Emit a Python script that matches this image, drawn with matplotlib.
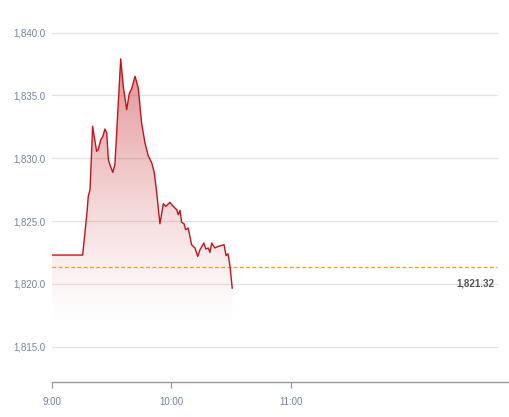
import numpy as np
import matplotlib
matplotlib.use("Agg")
import matplotlib.pyplot as plt
from matplotlib.patches import Polygon

# minutes after 9:00 and index value
minutes = [0, 15.4, 17.7, 18.2, 19.1, 20.4, 22.4, 23.2, 24.5, 25.5, 26.6, 27.5,
           28.3, 29.1, 30.5, 31.6, 34.5, 35.8, 37.5, 38.8, 40.0, 41.7, 43.3,
           45.0, 46.7, 48.3, 50.1, 51.4, 52.6, 54.2, 55.9, 57.1, 59.2, 60.9,
           62.6, 63.4, 64.3, 65.1, 66.3, 67.1, 68.4, 70.1, 71.8, 73.2, 74.3,
           76.3, 77.2, 78.5, 79.3, 80.2, 81.8, 83.5, 86.4, 87.4, 88.4, 89.4, 90.5]
values = [1822.3, 1822.3, 1825.9, 1826.97, 1827.5, 1832.54, 1830.55, 1830.68,
          1831.48, 1831.72, 1832.33, 1832.01, 1829.89, 1829.49, 1828.88, 1829.49,
          1837.91, 1835.72, 1833.87, 1835.14, 1835.52, 1836.52, 1835.6, 1832.81,
          1831.22, 1830.21, 1829.63, 1828.83, 1827.24, 1824.79, 1826.39, 1826.17,
          1826.49, 1826.17, 1825.91, 1825.51, 1825.85, 1824.9, 1824.79, 1824.32,
          1824.45, 1823.12, 1822.86, 1822.19, 1822.72, 1823.26, 1822.78, 1822.86,
          1822.51, 1823.26, 1822.86, 1822.99, 1823.12, 1822.25, 1822.40, 1821.39,
          1819.67]
prev_close = 1821.32
yticks = [1815.0, 1820.0, 1825.0, 1830.0, 1835.0, 1840.0]
xticks = [0, 60, 120]
xtick_labels = ["9:00", "10:00", "11:00"]

plt.rcParams['font.family'] = ['Liberation Sans', 'DejaVu Sans']

fig = plt.figure(figsize=(5.09, 4.17), dpi=100)
ax = fig.add_axes([52 / 509, 1 - 382 / 417, 457 / 509, 362 / 417])

line_color = '#c0141c'
grid_end = 0.974

# grid lines
for v in yticks:
    ax.axhline(v, xmax=grid_end, color='#e3e3e3', linewidth=0.9, zorder=0)

# gradient fill under the line
x = np.array(minutes)
y = np.array(values)
fill_bottom = 1816.5
top = y.max()
grad = np.linspace(0, 1, 256).reshape(-1, 1)
rgba = np.zeros((256, 1, 4))
rgba[..., 0] = 0.80
rgba[..., 1] = 0.25
rgba[..., 2] = 0.27
rgba[..., 3] = 0.58 * grad[:, 0:1] ** 1.3
img = ax.imshow(rgba, extent=[x.min(), x.max(), fill_bottom, top],
                origin='lower', aspect='auto', zorder=1)
poly = Polygon(np.column_stack([np.r_[x, x[-1], x[0]],
                                np.r_[y, fill_bottom, fill_bottom]]),
               closed=True, facecolor='none', edgecolor='none')
ax.add_patch(poly)
img.set_clip_path(poly)

ax.plot(x, y, color=line_color, linewidth=1.0, zorder=3)

# previous close reference line
ax.axhline(prev_close, xmax=grid_end, color='#f59a1e', linewidth=0.9,
           linestyle=(0, (3, 2)), zorder=2)
ax.text(0.968, 1820.05, f"{prev_close:,.2f}", transform=ax.get_yaxis_transform(),
        ha='right', va='center', fontsize=7, fontweight='bold', color='#555555')

ax.set_xlim(0, 229.5)
ax.set_ylim(1812.2, 1841.0)

ax.set_yticks(yticks)
ax.set_yticklabels([f"{v:,.1f}" for v in yticks])
ax.set_xticks(xticks)
ax.set_xticklabels(xtick_labels)
ax.tick_params(axis='y', length=0, pad=5, labelsize=7, labelcolor='#74849a')
ax.tick_params(axis='x', length=4, width=0.9, color='#999999', pad=7,
               labelsize=7, labelcolor='#74849a')

for side in ['top', 'right', 'left']:
    ax.spines[side].set_visible(False)
ax.spines['bottom'].set_color('#999999')
ax.spines['bottom'].set_linewidth(1.0)

fig.savefig("out.png", dpi=100)
